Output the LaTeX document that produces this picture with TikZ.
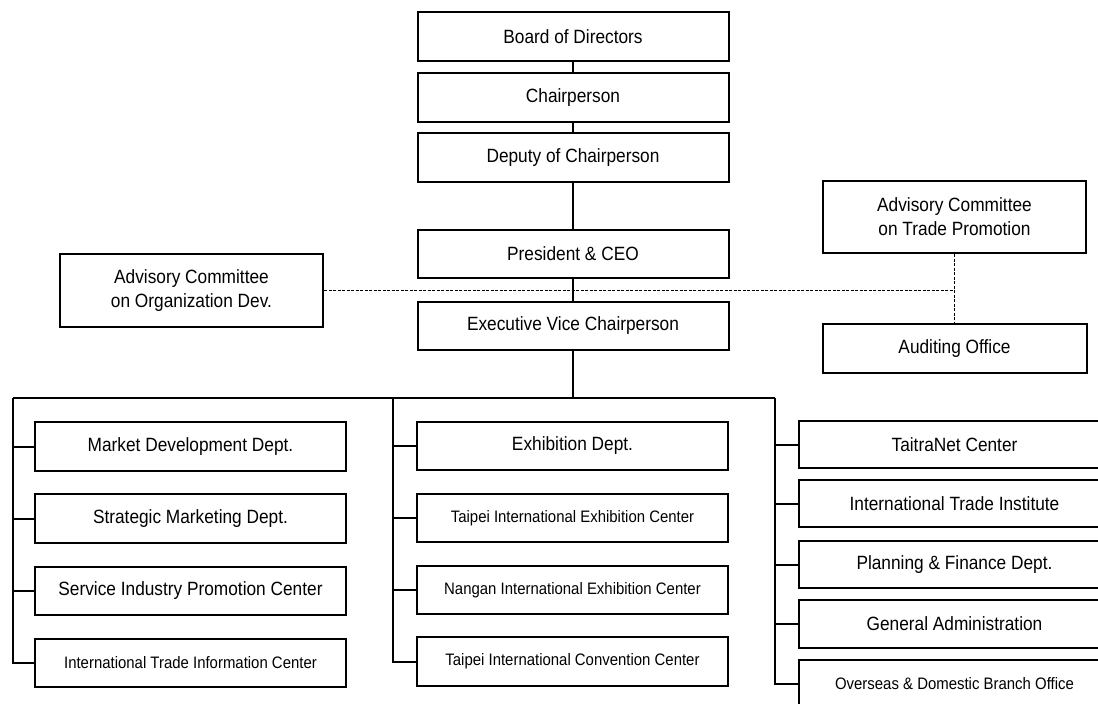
\documentclass[tikz,border=0pt]{standalone}
\usepackage{fontspec}
\setmainfont{Liberation Sans}[FakeStretch=0.9]
\begin{document}
\begin{tikzpicture}[x=1pt,y=-1pt,
  box/.style={draw=black, line width=2pt, fill=white, inner sep=0pt, align=center,
    minimum width=311pt, minimum height=48pt, font=\fontsize{19.2}{24}\selectfont},
  smallbox/.style={box, font=\fontsize{16.6}{20}\selectfont},
  conn/.style={draw=black, line width=2pt},
  dashconn/.style={draw=black, line width=1pt, dash pattern=on 3pt off 1.5pt}]
\useasboundingbox (0,0) rectangle (1098,704);
\clip (0,0) rectangle (1098,704);
% top chain
\node[box, minimum height=49pt] (board) at (573,36.5) {Board of Directors};
\node[box, minimum height=49pt] (chair) at (573,97.5) {Chairperson};
\node[box, minimum height=49pt] (deputy) at (573,157.5) {Deputy of Chairperson};
\node[box] (pres) at (573,254) {President \& CEO};
\node[box] (exec) at (573,326) {Executive Vice Chairperson};
% advisory / auditing
\node[box, minimum width=263pt, minimum height=73pt] (advorg) at (191.5,290.5) {Advisory Committee\\on Organization Dev.};
\node[box, minimum width=263pt, minimum height=72pt] (advtrade) at (954.5,217) {Advisory Committee\\on Trade Promotion};
\node[box, minimum width=264pt, minimum height=49pt] (audit) at (954.5,348.5) {Auditing Office};
% left column
\node[box, minimum height=49pt] (l1) at (190.5,446.5) {Market Development Dept.};
\node[box, minimum height=49pt] (l2) at (190.5,518.5) {Strategic Marketing Dept.};
\node[box] (l3) at (190.5,591) {Service Industry Promotion Center};
\node[smallbox] (l4) at (190.5,663) {International Trade Information Center};
% middle column
\node[box] (m1) at (572.5,446) {Exhibition Dept.};
\node[smallbox] (m2) at (572.5,518) {Taipei International Exhibition Center};
\node[smallbox] (m3) at (572.5,590) {Nangan International Exhibition Center};
\node[smallbox, minimum height=49pt] (m4) at (572.5,661.5) {Taipei International Convention Center};
% right column
\node[box, minimum height=47pt] (r1) at (954.5,444.5) {TaitraNet Center};
\node[box, minimum height=47pt] (r2) at (954.5,503.5) {International Trade Institute};
\node[box, minimum height=47pt] (r3) at (954.5,564.5) {Planning \& Finance Dept.};
\node[box] (r4) at (954.5,624) {General Administration};
\node[smallbox] (r5) at (954.5,684) {Overseas \& Domestic Branch Office};
% coordinates
\coordinate (tree) at (573,398);
\coordinate (L) at (13,398);
\coordinate (M) at (393,398);
\coordinate (R) at (775,398);
\coordinate (j) at (954.5,290);
% solid connectors
\draw[conn] (board.south) -- (chair.north);
\draw[conn] (chair.south) -- (deputy.north);
\draw[conn] (deputy.south) -- (pres.north);
\draw[conn] (pres.south) -- (exec.north);
\draw[conn] (exec.south) -- (tree);
\draw[conn] (L) -- (R);
\draw[conn] (L) -- (L |- l4.west) -- (l4.west);
\foreach \n in {l1,l2,l3} \draw[conn] (L |- \n.west) -- (\n.west);
\draw[conn] (M) -- (M |- m4.west) -- (m4.west);
\foreach \n in {m1,m2,m3} \draw[conn] (M |- \n.west) -- (\n.west);
\draw[conn] (R) -- (R |- r5.west) -- (r5.west);
\foreach \n in {r1,r2,r3,r4} \draw[conn] (R |- \n.west) -- (\n.west);
% dashed connectors
\draw[dashconn] (advorg.east |- j) -- (j);
\draw[dashconn] (advtrade.south) -- (audit.north);
\end{tikzpicture}
\end{document}
